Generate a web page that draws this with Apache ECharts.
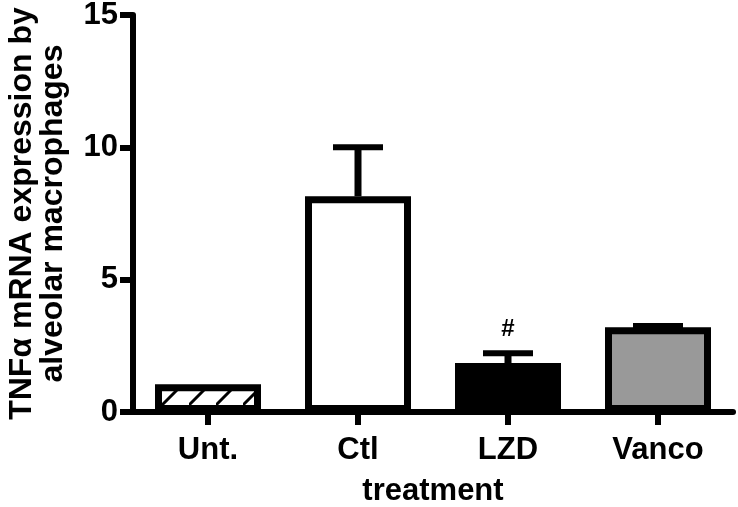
<!DOCTYPE html>
<html>
<head>
<meta charset="utf-8">
<script src="https://cdn.jsdelivr.net/npm/echarts@6/dist/echarts.min.js"></script>
<style>
html,body{margin:0;padding:0;background:#fff;}
#chart{width:738px;height:507px;}
</style>
</head>
<body>
<div id="chart"></div>
<script>
// ---- data ----
const categories = ['Unt.', 'Ctl', 'LZD', 'Vanco'];
const means = [1.05, 8.15, 1.85, 3.2];
const sems = [0, 1.85, 0.37, 0.05];
const marks = ['', '', '#', ''];
const yMin = 0, yMax = 15, yStep = 5;

// ---- styles ----
const FONT = '"Liberation Sans", Arial, Helvetica, sans-serif';
function hatch() {
  const s = 27;
  const c = document.createElement('canvas');
  c.width = s; c.height = s;
  const g = c.getContext('2d');
  g.fillStyle = '#fff'; g.fillRect(0, 0, s, s);
  g.strokeStyle = '#000'; g.lineWidth = 3;
  g.beginPath();
  g.moveTo(-2, s + 2); g.lineTo(s + 2, -2);
  g.moveTo(-2 - s, s + 2); g.lineTo(2, -2);
  g.moveTo(s - 2, 2 * s + 2); g.lineTo(2 * s + 2, s - 2);
  g.stroke();
  return c;
}
const fills = [{ image: hatch(), repeat: 'repeat' }, '#ffffff', '#000000', '#999999'];

const chart = echarts.init(document.getElementById('chart'));
chart.setOption({
  backgroundColor: '#fff',
  animation: false,
  grid: { left: 133, right: 5, top: 15, bottom: 95, containLabel: false, outerBoundsMode: 'none' },
  xAxis: {
    type: 'category',
    data: categories,
    name: 'treatment',
    nameLocation: 'middle',
    nameGap: 64,
    nameTextStyle: { fontFamily: FONT, fontWeight: 'bold', fontSize: 31, color: '#000' },
    axisLine: { lineStyle: { color: '#000', width: 6 } },
    axisTick: { show: true, alignWithLabel: true, length: 13, lineStyle: { color: '#000', width: 6 } },
    axisLabel: { fontFamily: FONT, fontWeight: 'bold', fontSize: 31, color: '#000', margin: 23 },
    splitLine: { show: false }
  },
  yAxis: {
    type: 'value',
    min: yMin, max: yMax, interval: yStep,
    name: 'TNFα mRNA expression by\nalveolar macrophages',
    nameLocation: 'middle',
    nameGap: 64,
    nameTextStyle: { fontFamily: FONT, fontWeight: 'bold', fontSize: 32, lineHeight: 31, color: '#000' },
    axisLine: { show: true, lineStyle: { color: '#000', width: 6 } },
    axisTick: { show: true, length: 13, lineStyle: { color: '#000', width: 6 } },
    axisLabel: { fontFamily: FONT, fontWeight: 'bold', fontSize: 31, color: '#000', margin: 15 },
    splitLine: { show: false }
  },
  series: [
    {
      type: 'custom',
      z: 1,
      data: means.map((m, i) => [i, m, m + sems[i]]),
      renderItem: function (params, api) {
        const i = api.value(0);
        const base = api.coord([i, api.value(1)]);
        const top = api.coord([i, api.value(2)]);
        const half = 25;
        const children = [];
        if (sems[i] > 0) {
          children.push({ type: 'line', shape: { x1: base[0], y1: base[1], x2: top[0], y2: top[1] }, style: { stroke: '#000', lineWidth: 7 } });
          children.push({ type: 'line', shape: { x1: top[0] - half, y1: top[1], x2: top[0] + half, y2: top[1] }, style: { stroke: '#000', lineWidth: 6 } });
        }
        if (marks[i]) {
          children.push({ type: 'text', style: { x: top[0], y: top[1] - 12, text: marks[i], align: 'center', verticalAlign: 'bottom', font: 'bold 24px ' + FONT, fill: '#000' } });
        }
        return { type: 'group', children: children };
      }
    },
    {
      type: 'bar',
      z: 2,
      barWidth: 106,
      data: means.map((m, i) => ({ value: m, itemStyle: { color: fills[i], borderColor: '#000', borderWidth: 7 } }))
    }
  ]
});
</script>
</body>
</html>
